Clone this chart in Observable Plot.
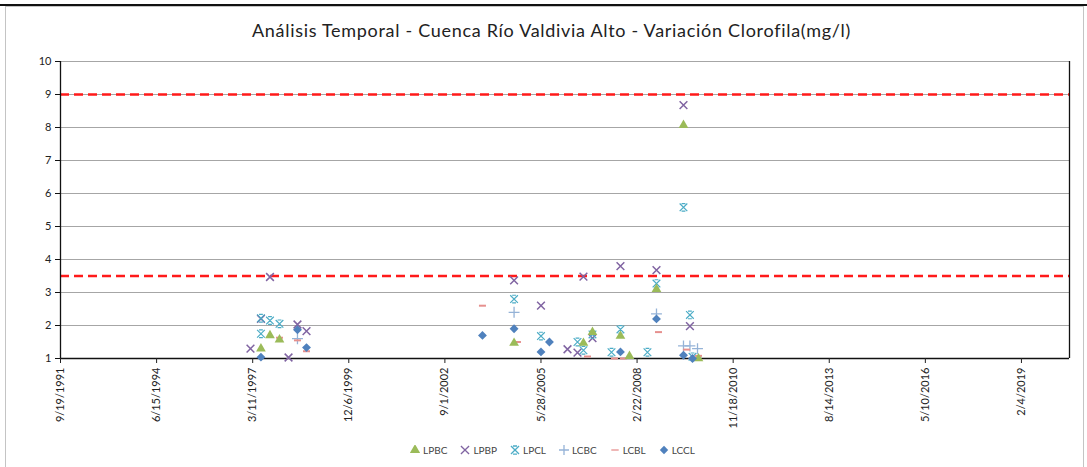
<!DOCTYPE html>
<html><head><meta charset="utf-8">
<script src="https://cdn.jsdelivr.net/npm/d3@7"></script>
<script src="https://cdn.jsdelivr.net/npm/@observablehq/plot@0.6"></script>
<style>
body{margin:0;background:#fff;font-family:Lato,"Open Sans",sans-serif;}
#topline{position:absolute;left:0;top:4px;width:1087px;height:2px;background:#111;}
#frame{position:absolute;left:5px;top:6px;width:1079px;height:470px;border:1px solid #c4c4c4;box-sizing:border-box;}
#title{position:absolute;top:19px;left:0;width:1103px;text-align:center;font-size:18px;letter-spacing:0.7px;color:#222;}
#chart{position:absolute;top:50px;left:0;}
#legend{position:absolute;top:444px;left:0;width:1105px;display:flex;justify-content:center;gap:13px;font-size:10px;color:#444;}
#legend .item{display:flex;align-items:center;gap:3px;}
</style>
</head><body>
<div id="topline"></div>
<div id="frame"></div>
<div id="title">Análisis Temporal - Cuenca Río Valdivia Alto - Variación Clorofila(mg/l)</div>
<div id="chart"></div>
<div id="legend"></div>
<script>
// ---- data ----
const seriesNames = ["LPBC","LPBP","LPCL","LCBC","LCBL","LCCL"];
const lpbcDates = ["1997-06-05","1997-09-07","1997-12-15","2004-08-21","2006-08-13","2006-11-15","2007-09-02","2007-12-05","2008-09-11","2009-06-19","2009-11-22"];
const lpbcValues = [1.3,1.7,1.57,1.47,1.47,1.8,1.68,1.07,3.1,8.07,1.0];
const lpbpDates = ["1997-02-16","1997-06-05","1997-09-07","1998-03-19","1998-06-20","1998-09-22","2004-08-21","2005-05-28","2006-02-28","2006-06-12","2006-08-13","2006-11-15","2007-09-02","2008-09-11","2009-06-19","2009-08-25"];
const lpbpValues = [1.3,2.2,3.47,1.03,2.03,1.83,3.37,2.6,1.28,1.18,3.48,1.62,3.8,3.68,8.68,1.98];
const lpclDates = ["1997-06-05","1997-06-05","1997-09-07","1997-12-15","2004-08-21","2005-05-28","2006-06-12","2006-08-13","2006-11-15","2007-06-01","2007-09-02","2008-06-09","2008-09-11","2009-06-19","2009-08-25","2009-09-21"];
const lpclValues = [2.22,1.75,2.15,2.05,2.8,1.68,1.5,1.25,1.73,1.19,1.88,1.19,3.27,5.58,2.32,1.05];
const lcbcDates = ["1998-06-20","2004-08-21","2008-09-11","2009-06-19","2009-08-25","2009-11-12"];
const lcbcValues = [1.6,2.4,2.35,1.38,1.38,1.3];
const lcblDates = ["1997-12-15","1998-06-20","1998-09-22","2003-09-27","2004-09-25","2006-09-24","2007-07-02","2007-10-03","2008-10-02","2009-07-20","2009-11-22"];
const lcblValues = [1.63,1.55,1.22,2.6,1.5,1.06,1.0,1.0,1.8,1.27,1.08];
const lcclDates = ["1997-06-05","1998-06-20","1998-09-22","2003-09-27","2004-08-21","2005-05-28","2005-08-24","2007-09-02","2008-09-11","2009-06-19","2009-09-21"];
const lcclValues = [1.04,1.87,1.33,1.7,1.9,1.2,1.5,1.2,2.2,1.1,1.0];
const limitValues = [9, 3.5];
const yTicks = [1,2,3,4,5,6,7,8,9,10];
const xTickLabels = ["9/19/1991","6/15/1994","3/11/1997","12/6/1999","9/1/2002","5/28/2005","2/22/2008","11/18/2010","8/14/2013","5/10/2016","2/4/2019"];
const xDomainLabels = ["9/19/1991","6/18/2020"];

const colors = {LPBC:"#9bbb59",LPBP:"#8064a2",LPCL:"#4bacc6",LCBC:"#95b3d7",LCBL:"#e6908e",LCCL:"#4f81bd"};

const parseIso = d3.utcParse("%Y-%m-%d");
const parseUs = d3.utcParse("%m/%d/%Y");
const rows = (dates, values) => dates.map((d,i)=>({date:parseIso(d), value:values[i]}));
const xTicks = xTickLabels.map(parseUs);
const xDomain = xDomainLabels.map(parseUs);

const dashSymbol = {draw(ctx, size){const w = Math.sqrt(size)*0.55; ctx.moveTo(-w,0); ctx.lineTo(w,0);}};
// Excel-like star marker: an X with short caps
const starSymbol = {draw(ctx, size){const w = Math.sqrt(size)*0.6;
  ctx.moveTo(-w,-w); ctx.lineTo(w,w); ctx.moveTo(-w,w); ctx.lineTo(w,-w);
  ctx.moveTo(-w*0.5,-w); ctx.lineTo(w*0.5,-w); ctx.moveTo(-w*0.5,w); ctx.lineTo(w*0.5,w);}};

const R = 3.6;
const chart = Plot.plot({
  width: 1087, height: 385,
  marginLeft: 60, marginRight: 18, marginTop: 11, marginBottom: 77,
  style:{fontFamily:"Lato, sans-serif", fontSize:"11px", color:"#222", background:"transparent"},
  x:{type:"utc", domain:xDomain},
  y:{domain:[1,10]},
  marks:[
    Plot.ruleY(yTicks, {stroke:"#a6a6a6", strokeWidth:1.2}),
    Plot.ruleY(limitValues, {stroke:"#ff1a1a", strokeWidth:2.7, strokeDasharray:"9,5"}),
    Plot.ruleX([xDomain[0]], {stroke:"#111", strokeWidth:1.3}),
    Plot.ruleX([xDomain[1]], {stroke:"#111", strokeWidth:1.3}),
    Plot.ruleY([1], {stroke:"#111", strokeWidth:1.3}),
    Plot.axisY({ticks:yTicks, tickSize:5, tickPadding:4, label:null, stroke:"#111"}),
    Plot.axisX({ticks:xTicks, tickFormat:d3.utcFormat("%-m/%-d/%Y"), tickRotate:-90, tickSize:5, tickPadding:4, label:null}),
    Plot.dot(rows(lpbpDates,lpbpValues), {x:"date", y:"value", symbol:"times", r:R, stroke:colors.LPBP, strokeWidth:1.5}),
    Plot.dot(rows(lpclDates,lpclValues), {x:"date", y:"value", symbol:starSymbol, r:R, stroke:colors.LPCL, strokeWidth:1.2}),
    Plot.dot(rows(lcbcDates,lcbcValues), {x:"date", y:"value", symbol:"plus", r:R, stroke:colors.LCBC, strokeWidth:1.3}),
    Plot.dot(rows(lcblDates,lcblValues), {x:"date", y:"value", symbol:dashSymbol, r:R, stroke:colors.LCBL, strokeWidth:2}),
    Plot.dot(rows(lpbcDates,lpbcValues), {x:"date", y:"value", symbol:"triangle", r:R, fill:colors.LPBC, stroke:null}),
    Plot.dot(rows(lcclDates,lcclValues), {x:"date", y:"value", symbol:"diamond2", r:R+0.4, fill:colors.LCCL, stroke:null})
  ]
});
document.getElementById("chart").appendChild(chart);

// legend
const symMap = {LPBC:[d3.symbolTriangle,true],LPBP:[d3.symbolTimes,false],LPCL:[starSymbol,false],LCBC:[d3.symbolPlus,false],LCBL:[dashSymbol,false],LCCL:[d3.symbolDiamond2,true]};
const leg = document.getElementById("legend");
seriesNames.forEach(name=>{
  const [type, filled] = symMap[name];
  const item = document.createElement("div"); item.className="item";
  const path = d3.symbol(type, 45)();
  item.innerHTML = `<svg width="10" height="10" viewBox="-5 -5 10 10"><path d="${path}" fill="${filled?colors[name]:"none"}" stroke="${filled?"none":colors[name]}" stroke-width="1.3"/></svg><span>${name}</span>`;
  leg.appendChild(item);
});
</script>
</body></html>
